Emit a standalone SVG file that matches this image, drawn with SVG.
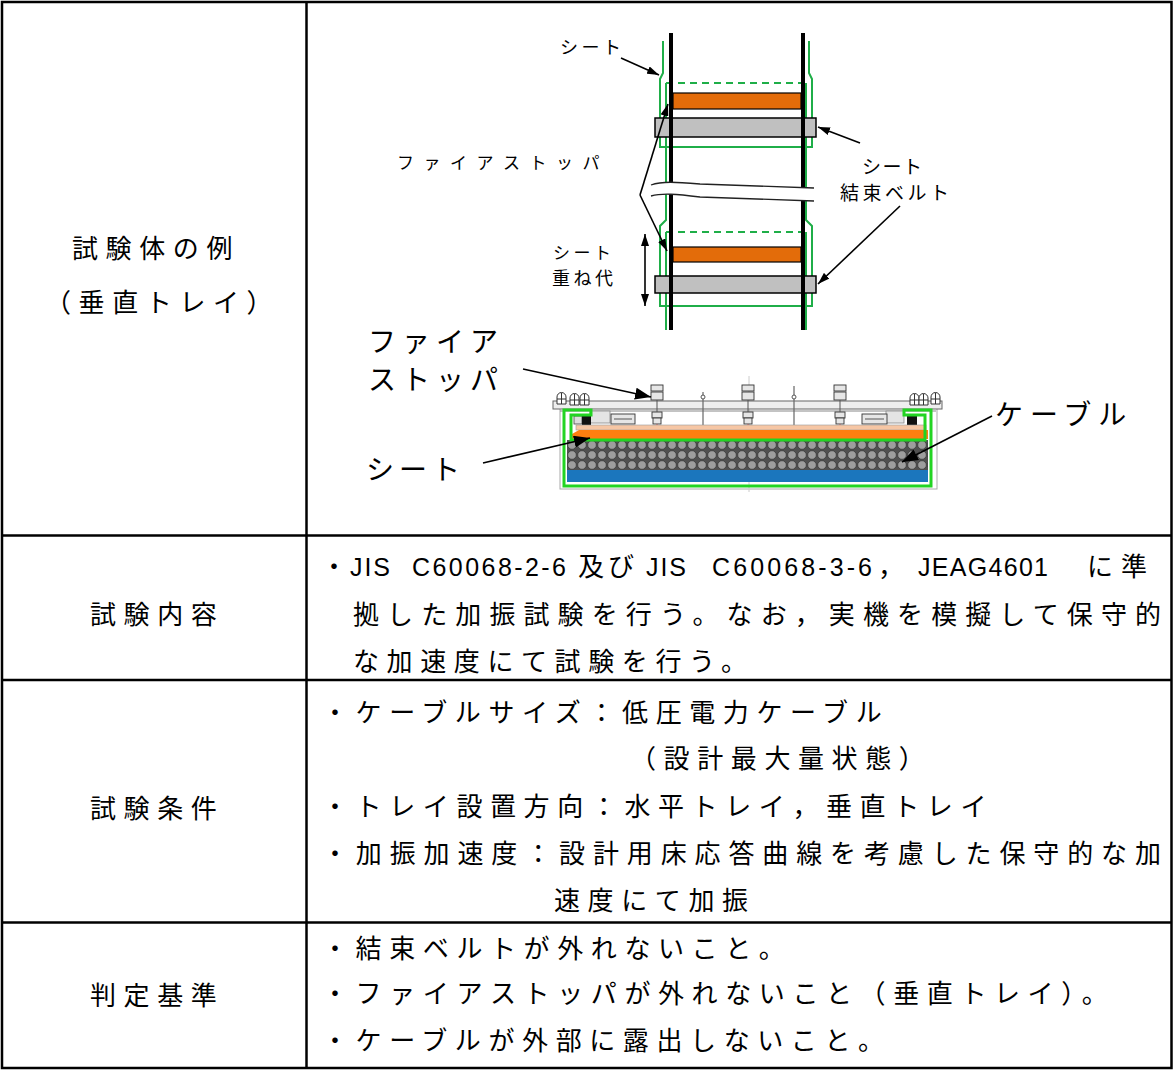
<svg xmlns="http://www.w3.org/2000/svg" width="1173" height="1070" viewBox="0 0 1173 1070">
<style>
text{font-family:"Noto Sans CJK JP","Noto Sans CJK SC",sans-serif;fill:#000}
.t{font-size:26px;letter-spacing:7.6px}
.j{font-size:26px}
.lat{font-family:"Liberation Sans","Noto Sans CJK JP",sans-serif;font-size:25px}
.grid{stroke:#000;stroke-width:2.5;fill:none}
.g{fill:none;stroke:#1fae48;stroke-width:2}
.gd{fill:none;stroke:#1fae48;stroke-width:2;stroke-dasharray:7 5}
.rail{stroke:#000;stroke-width:4;fill:none}
.arr{stroke:#000;stroke-width:1.6;fill:none}
.part{fill:#e6e6e6;stroke:#333;stroke-width:0.9}
.thin{stroke:#555;stroke-width:1;fill:none}
.lime{fill:none;stroke:#22d422;stroke-width:3}
</style>
<defs>
<marker id="ahs" viewBox="0 0 12 8" refX="12" refY="4" markerWidth="12" markerHeight="8" markerUnits="userSpaceOnUse" orient="auto-start-reverse"><path d="M0,0 L12,4 L0,8 z" fill="#000"/></marker>
<marker id="ahl" viewBox="0 0 16 12" refX="16" refY="6" markerWidth="16" markerHeight="12" markerUnits="userSpaceOnUse" orient="auto"><path d="M0,0 L16,6 L0,12 z" fill="#000"/></marker>
<pattern id="cab" x="567" y="440" width="10" height="10" patternUnits="userSpaceOnUse"><rect width="10" height="10" fill="#505050"/><circle cx="5" cy="5" r="4.3" fill="#9e9e9e" stroke="#333" stroke-width="0.7"/></pattern>
<g id="dome"><path d="M0,12 V5 A4.5,4.5 0 0 1 9,5 V12 Z M4.5,1 V12 M0,7 H9" fill="#fff" stroke="#333" stroke-width="1"/></g>
<g id="bolt"><rect x="-6" y="385" width="12" height="6" class="part"/><rect x="-6" y="392" width="12" height="8" class="part"/><rect x="-5" y="412" width="10" height="6" class="part"/><rect x="-4" y="418" width="8" height="6" class="part"/><line x1="0" y1="400" x2="0" y2="412" class="thin"/><line x1="0" y1="424" x2="0" y2="430" stroke="#c44" stroke-width="1"/></g>
</defs>

<g id="table">
<rect x="2" y="2" width="1169.5" height="1066" class="grid"/>
<line x1="306.5" y1="2" x2="306.5" y2="1068" class="grid"/>
<line x1="2" y1="535.5" x2="1171.5" y2="535.5" class="grid"/>
<line x1="2" y1="680" x2="1171.5" y2="680" class="grid"/>
<line x1="2" y1="922.5" x2="1171.5" y2="922.5" class="grid"/>
</g>

<g id="row-specimen-label">
<text class="t" x="72" y="258">試験体の例</text>
<text class="t" x="45" y="312">（垂直トレイ）</text>
</g>
<g id="row-content-label"><text class="t" x="90" y="624">試験内容</text></g>
<g id="row-condition-label"><text class="t" x="90" y="818">試験条件</text></g>
<g id="row-criteria-label"><text class="t" x="90" y="1005">判定基準</text></g>

<g id="row-content-text">
<text class="j" x="321" y="576">・</text>
<text class="lat" x="350" y="576" textLength="40" lengthAdjust="spacing">JIS</text>
<text class="lat" x="412" y="576" textLength="154" lengthAdjust="spacing">C60068-2-6</text>
<text class="j" x="578" y="576" letter-spacing="4">及び</text>
<text class="lat" x="646" y="576" textLength="40" lengthAdjust="spacing">JIS</text>
<text class="lat" x="712" y="576" textLength="160" lengthAdjust="spacing">C60068-3-6</text>
<text class="j" x="878" y="576">，</text>
<text class="lat" x="918" y="576" textLength="130" lengthAdjust="spacing">JEAG4601</text>
<text class="j" x="1087" y="576" letter-spacing="8">に準</text>
<text class="j" x="353" y="624" textLength="808" lengthAdjust="spacing">拠した加振試験を行う。なお，実機を模擬して保守的</text>
<text class="t" x="353" y="671">な加速度にて試験を行う。</text>
</g>

<g id="row-condition-text">
<text class="t" x="322" y="722">・ケーブルサイズ：低圧電力ケーブル</text>
<text class="t" x="630" y="768">（設計最大量状態）</text>
<text class="t" x="322" y="816">・トレイ設置方向：水平トレイ，垂直トレイ</text>
<text class="j" x="322" y="863" textLength="839" lengthAdjust="spacing">・加振加速度：設計用床応答曲線を考慮した保守的な加</text>
<text class="t" x="554" y="910">速度にて加振</text>
</g>

<g id="row-criteria-text">
<text class="t" x="322" y="958">・結束ベルトが外れないこと。</text>
<text class="t" x="322" y="1003">・ファイアストッパが外れないこと（垂直トレイ）。</text>
<text class="t" x="322" y="1050">・ケーブルが外部に露出しないこと。</text>
</g>

<g id="vertical-tray">
<path class="g" d="M663,41 V73 L660,79 V147 H812 V79 L809,73 V41"/>
<path class="gd" d="M666,83 H806"/>
<path class="g" d="M666,83 V220 L660,226 V306 H812 V226 L806,220 V83"/>
<path class="gd" d="M666,232 H806"/>
<path class="g" d="M666,232 V330 M806,232 V330"/>
<rect x="673" y="93" width="128" height="16" fill="#e36c0a" stroke="#000" stroke-width="1.2"/>
<rect x="655" y="118" width="161" height="19" fill="#c0c0c0" stroke="#000" stroke-width="1.5"/>
<rect x="673" y="247" width="128" height="15" fill="#e36c0a" stroke="#000" stroke-width="1.2"/>
<rect x="655" y="276" width="161" height="17" fill="#c0c0c0" stroke="#000" stroke-width="1.5"/>
<line x1="671" y1="33" x2="671" y2="330" class="rail"/>
<line x1="803" y1="33" x2="803" y2="330" class="rail"/>
<path d="M648,185 C662,181 676,182 700,184 L816,188 L816,201 L700,197 C676,194 662,193 648,196 Z" fill="#fff"/>
<path d="M651,185 C662,181 676,182 700,184 L814,188" fill="none" stroke="#222" stroke-width="1.3"/>
<path d="M651,196 C662,193 676,194 700,197 L814,201" fill="none" stroke="#222" stroke-width="1.3"/>
</g>

<g id="vertical-labels">
<text x="560" y="54" font-size="18" letter-spacing="3.5">シート</text>
<text x="397" y="169" font-size="17" letter-spacing="9.5">ファイアストッパ</text>
<text x="862" y="174" font-size="19" letter-spacing="1.5">シート</text>
<text x="840" y="200" font-size="19" letter-spacing="3.5">結束ベルト</text>
<text x="553" y="259" font-size="17" letter-spacing="3.5">シート</text>
<text x="552" y="285" font-size="18" letter-spacing="3.5">重ね代</text>
</g>

<g id="horizontal-tray">
<rect x="560" y="404" width="377" height="85" fill="#fff" stroke="#aaa" stroke-width="1"/>
<line x1="749" y1="376" x2="749" y2="492" stroke="#ccc" stroke-width="1"/>
<rect x="553" y="401" width="389" height="8" fill="#eee" stroke="#666" stroke-width="1"/>
<line x1="560" y1="411" x2="936" y2="411" stroke="#888" stroke-width="1"/>
<rect x="590" y="411" width="20" height="12" fill="#e4e4e4" stroke="#888" stroke-width="0.8"/>
<rect x="886" y="411" width="18" height="12" fill="#e4e4e4" stroke="#888" stroke-width="0.8"/>
<rect x="574" y="416" width="8" height="8" fill="#ddd" stroke="#444" stroke-width="0.8"/>
<rect x="582" y="416" width="9" height="9" fill="#111"/>
<rect x="907" y="415" width="10" height="10" fill="#111"/>
<rect x="611" y="414" width="24" height="10" class="part"/>
<line x1="614" y1="419" x2="632" y2="419" class="thin"/>
<rect x="862" y="414" width="25" height="10" class="part"/>
<line x1="865" y1="419" x2="884" y2="419" class="thin"/>
<use href="#bolt" x="657"/>
<use href="#bolt" x="748"/>
<use href="#bolt" x="840"/>
<line x1="703" y1="392" x2="703" y2="431" stroke="#666" stroke-width="1.2"/>
<circle cx="703" cy="397" r="2" fill="#fff" stroke="#555"/>
<line x1="794" y1="386" x2="794" y2="431" stroke="#666" stroke-width="1.2"/>
<circle cx="794" cy="397" r="2" fill="#fff" stroke="#555"/>
<use href="#dome" x="557" y="392"/>
<use href="#dome" x="570" y="393"/>
<use href="#dome" x="580" y="393"/>
<use href="#dome" x="910" y="393"/>
<use href="#dome" x="919" y="393"/>
<use href="#dome" x="931" y="392"/>
<rect x="576" y="425" width="350" height="5" fill="#f6c6a4" stroke="#999" stroke-width="0.6"/>
<path d="M572,434 L579,430 H928 V439 H572 Z" fill="#ff7f10"/>
<rect x="567" y="440" width="361" height="30" fill="url(#cab)"/>
<rect x="567" y="470" width="361" height="12" fill="#1b76bd"/>
<path class="lime" d="M564,486 V410 H591 V415 H571 V440 H925 V415 H904 V410 H931 V486 Z"/>
</g>

<g id="horizontal-labels">
<text x="368" y="352" font-size="28" letter-spacing="6">ファイア</text>
<text x="368" y="390" font-size="28" letter-spacing="6">ストッパ</text>
<text x="366" y="480" font-size="28" letter-spacing="5">シート</text>
<text x="995" y="425" font-size="28" letter-spacing="7">ケーブル</text>
</g>

<g id="connectors">
<line x1="621" y1="58" x2="659" y2="75" class="arr" marker-end="url(#ahs)"/>
<line x1="640" y1="195" x2="668" y2="104" class="arr" marker-end="url(#ahs)"/>
<line x1="640" y1="195" x2="667" y2="251" class="arr" marker-end="url(#ahs)"/>
<line x1="860" y1="143" x2="818" y2="127" class="arr" marker-end="url(#ahs)"/>
<line x1="900" y1="206" x2="818" y2="284" class="arr" marker-end="url(#ahs)"/>
<line x1="645" y1="234" x2="645" y2="306" class="arr" marker-start="url(#ahs)" marker-end="url(#ahs)"/>
<line x1="523" y1="369" x2="651" y2="397" class="arr" marker-end="url(#ahl)"/>
<line x1="483" y1="463" x2="590" y2="438" class="arr" marker-end="url(#ahl)"/>
<line x1="992" y1="416" x2="902" y2="462" class="arr" marker-end="url(#ahl)"/>
</g>
</svg>
